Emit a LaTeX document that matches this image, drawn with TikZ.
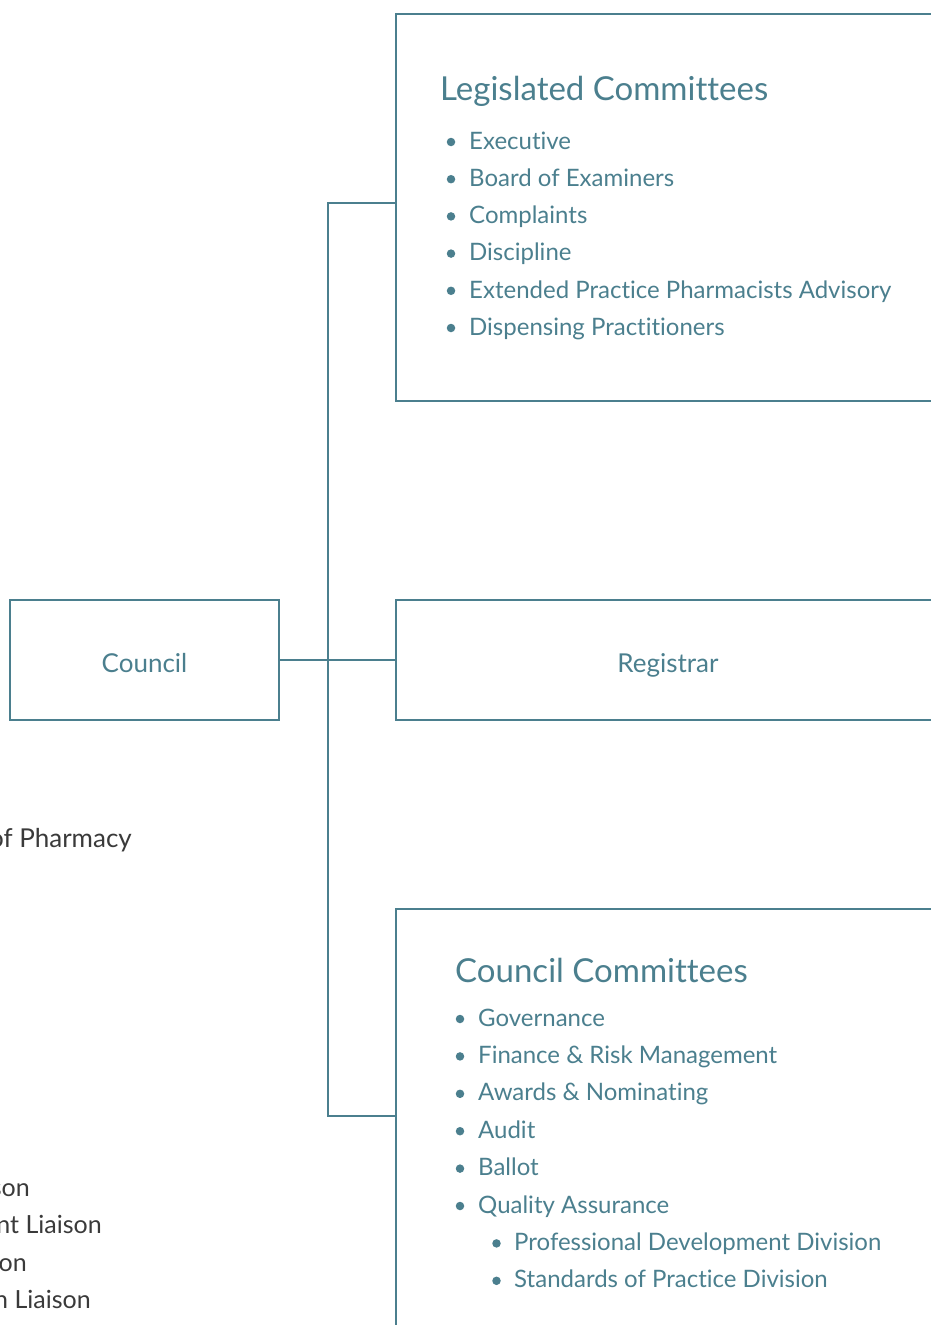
\documentclass[tikz,border=0pt]{standalone}
\usepackage{fontspec}
\setmainfont{Lato}[Ligatures={NoCommon,NoRequired}]
\usetikzlibrary{positioning}
\definecolor{orgteal}{HTML}{4B7F8E}
\definecolor{orggrey}{HTML}{3A3A3A}
\tikzset{
  orgbox/.style={draw=orgteal, line width=2.2pt, inner sep=0pt, text=orgteal, font=\fontsize{26}{30}\selectfont, text height=24pt, text depth=0pt},
  orgline/.style={draw=orgteal, line width=2.2pt},
  boxtitle/.style={anchor=base west, inner sep=0pt, text=orgteal, font=\fontsize{33}{40}\selectfont},
  boxitem/.style={anchor=base west, inner sep=0pt, text=orgteal, font=\fontsize{24}{28}\selectfont},
  sidetext/.style={anchor=base east, inner sep=0pt, text=orggrey, font=\fontsize{25}{29}\selectfont},
  itemdot/.style={circle, fill=orgteal, inner sep=0pt, minimum size=8.5pt},
}

\begin{document}
\begin{tikzpicture}[x=1pt, y=-1pt]
			%%%%% START %%%%%
			\useasboundingbox (0,0) rectangle (931,1325);
			\clip (0,0) rectangle (931,1325);
			
			% boxes
			\node[orgbox, minimum width=269pt, minimum height=120pt] (council) at (144.5,660) {Council};
			\node[orgbox, minimum width=544pt, minimum height=387pt] (legis) at (668,207.5) {};
			\node[orgbox, minimum width=544pt, minimum height=120pt] (registrar) at (668,660) {Registrar};
			\node[orgbox, minimum width=544pt, minimum height=431pt] (ccomm) at (668,1124.5) {};
			
			% connectors
			\coordinate (jtop) at (328,203);
			\coordinate (jbot) at (328,1116);
			\draw[orgline] (council.east) -- (registrar.west);
			\draw[orgline] (legis.west |- jtop) -- (jtop) -- (jbot) -- (ccomm.west |- jbot);
			
			% legislated committees
			\node[boxtitle] (ltitle) at (440,100.7) {Legislated Committees};
			
			\node[itemdot] (ldot1) at (451,142) {};
			\node[boxitem] (litem1) at (469,149.3) {Executive};
			\node[itemdot] (ldot2) at (451,179.2) {};
			\node[boxitem] (litem2) at (469,186.5) {Board of Examiners};
			\node[itemdot] (ldot3) at (451,216.4) {};
			\node[boxitem] (litem3) at (469,223.7) {Complaints};
			\node[itemdot] (ldot4) at (451,253.6) {};
			\node[boxitem] (litem4) at (469,260.9) {Discipline};
			\node[itemdot] (ldot5) at (451,290.8) {};
			\node[boxitem] (litem5) at (469,298.1) {Extended Practice Pharmacists Advisory};
			\node[itemdot] (ldot6) at (451,328) {};
			\node[boxitem] (litem6) at (469,335.3) {Dispensing Practitioners};
			
			% council committees
			\node[boxtitle] (ctitle) at (455,982) {Council Committees};
			
			\node[itemdot] (cdot1) at (460,1019) {};
			\node[boxitem] (citem1) at (478,1026) {Governance};
			\node[itemdot] (cdot2) at (460,1056.4) {};
			\node[boxitem] (citem2) at (478,1063.4) {Finance \& Risk Management};
			\node[itemdot] (cdot3) at (460,1093.8) {};
			\node[boxitem] (citem3) at (478,1100.8) {Awards \& Nominating};
			\node[itemdot] (cdot4) at (460,1131.2) {};
			\node[boxitem] (citem4) at (478,1138.2) {Audit};
			\node[itemdot] (cdot5) at (460,1168.6) {};
			\node[boxitem] (citem5) at (478,1175.6) {Ballot};
			\node[itemdot] (cdot6) at (460,1206) {};
			\node[boxitem] (citem6) at (478,1213) {Quality Assurance};
			\node[itemdot] (cdot7) at (496.5,1243.4) {};
			\node[boxitem] (citem7) at (514,1250.4) {Professional Development Division};
			\node[itemdot] (cdot8) at (496.5,1280.8) {};
			\node[boxitem] (citem8) at (514,1287.8) {Standards of Practice Division};
			
			% text cut at the left edge
			\node[sidetext, font=\fontsize{26}{30}\selectfont] (side1) at (132,847) {of Pharmacy};
			\node[sidetext] (side2) at (30,1196) {son};
			\node[sidetext] (side3) at (102,1233.5) {nt Liaison};
			\node[sidetext] (side4) at (27,1271) {on};
			\node[sidetext] (side5) at (91,1308.5) {n Liaison};
			
			%%%%% END %%%%%
\end{tikzpicture}
\end{document}
